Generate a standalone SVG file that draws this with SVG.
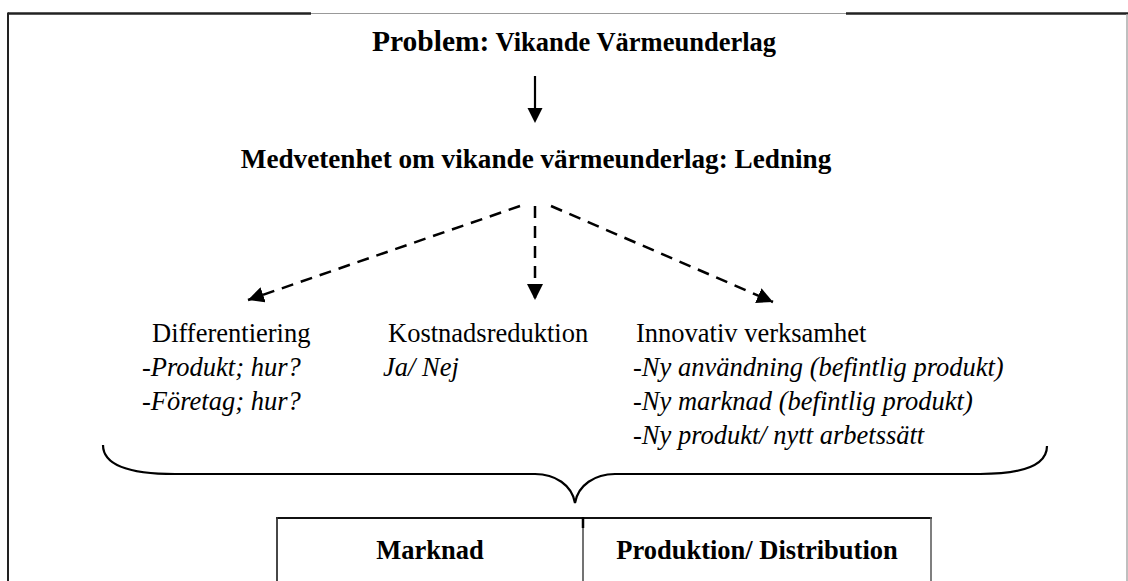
<svg xmlns="http://www.w3.org/2000/svg" width="1128" height="581" viewBox="0 0 1128 581">
<style>
.b{font-family:"Liberation Serif","Times New Roman",serif;font-weight:bold;fill:#000}
.r{font-family:"Liberation Serif","Times New Roman",serif;font-size:26.5px;fill:#000}
.i{font-family:"Liberation Serif","Times New Roman",serif;font-size:26.5px;font-style:italic;fill:#000}
.dash{stroke:#000;stroke-width:2.5;stroke-dasharray:12 8;fill:none}
</style>
<defs>
<marker id="ah" viewBox="0 0 10 10" refX="10" refY="5" markerWidth="6.4" markerHeight="6.4" markerUnits="strokeWidth" orient="auto">
<path d="M0,0 L10,5 L0,10 Z" fill="#000"/>
</marker>
</defs>
<rect width="1128" height="581" fill="#fff"/>
<g id="frame">
<line x1="8" y1="13.5" x2="311" y2="13.5" stroke="#222" stroke-width="2.5"/>
<line x1="311" y1="13.5" x2="846" y2="13.5" stroke="#999" stroke-width="1"/>
<line x1="846" y1="13.5" x2="1128" y2="13.5" stroke="#222" stroke-width="2.5"/>
<line x1="8" y1="12.5" x2="8" y2="581" stroke="#222" stroke-width="2"/>
<line x1="1127" y1="14" x2="1127" y2="581" stroke="#aaa" stroke-width="1.5"/>
</g>
<g id="problem">
<text class="b" x="372" y="51"><tspan font-size="29.5">Problem:</tspan><tspan font-size="26.5"> Vikande Värmeunderlag</tspan></text>
</g>
<g id="medvetenhet">
<text class="b" x="536" y="168" font-size="27.2" text-anchor="middle">Medvetenhet om vikande värmeunderlag: Ledning</text>
</g>
<g id="differentiering">
<text class="r" x="152" y="342">Differentiering</text>
<text class="i" x="142" y="376">-Produkt; hur?</text>
<text class="i" x="142" y="410">-Företag; hur?</text>
</g>
<g id="kostnadsreduktion">
<text class="r" x="388" y="342">Kostnadsreduktion</text>
<text class="i" x="383" y="376">Ja/ Nej</text>
</g>
<g id="innovativ">
<text class="r" x="636" y="342">Innovativ verksamhet</text>
<text class="i" x="633" y="376">-Ny användning (befintlig produkt)</text>
<text class="i" x="633" y="410">-Ny marknad (befintlig produkt)</text>
<text class="i" x="633" y="444">-Ny produkt/ nytt arbetssätt</text>
</g>
<g id="tabell">
<line x1="276" y1="518" x2="932" y2="518" stroke="#111" stroke-width="2"/>
<line x1="277" y1="517" x2="277" y2="581" stroke="#333" stroke-width="1.8"/>
<line x1="931" y1="517" x2="931" y2="581" stroke="#555" stroke-width="1.5"/>
<line x1="583" y1="517" x2="583" y2="528" stroke="#000" stroke-width="2.5"/>
<line x1="583" y1="528" x2="583" y2="581" stroke="#444" stroke-width="1.5"/>
<text class="b" x="430" y="559" font-size="26.5" text-anchor="middle">Marknad</text>
<text class="b" x="757" y="559" font-size="26.5" text-anchor="middle">Produktion/ Distribution</text>
</g>
<g id="connectors">
<line x1="535" y1="76" x2="535" y2="109" stroke="#000" stroke-width="2.2"/>
<path d="M527.5,108 L542.5,108 L535,123 Z" fill="#000"/>
<line class="dash" x1="520" y1="206" x2="248" y2="300" marker-end="url(#ah)"/>
<line class="dash" x1="535" y1="206" x2="535" y2="300" marker-end="url(#ah)"/>
<line class="dash" x1="551" y1="206" x2="773" y2="302" marker-end="url(#ah)"/>
<path d="M103,445 C103,465 130,474 175,474 L535,474 C555,474 572,485 575,503 C578,485 595,474 615,474 L980,474 C1025,474 1047,465 1047,446" fill="none" stroke="#000" stroke-width="2.2"/>
</g>
</svg>
